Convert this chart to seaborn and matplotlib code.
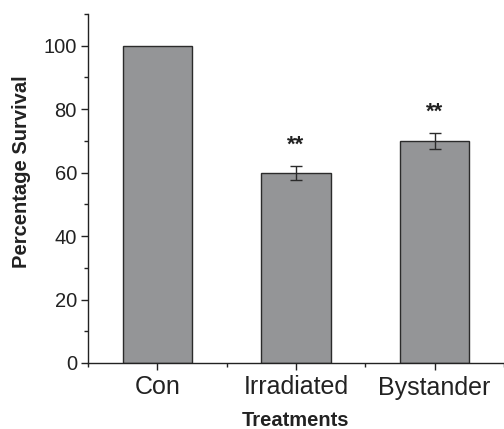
import numpy as np
import pandas as pd
import matplotlib
matplotlib.use("Agg")
import matplotlib.pyplot as plt
import seaborn as sns
from matplotlib.ticker import MultipleLocator, FixedLocator

# Data
treatments = ["Con", "Irradiated", "Bystander"]
survival = [100, 60, 70]
errors = [0, 2.2, 2.5]
marks = ["", "**", "**"]

sns.set_style("ticks")
plt.rcParams['font.family'] = ['Liberation Sans', 'DejaVu Sans']

df = pd.DataFrame({"Treatments": treatments, "Survival": survival})

fig = plt.figure(figsize=(5.04, 4.29), dpi=100)
ax = fig.add_axes([88 / 504, 1 - 363 / 429, 1 - 88 / 504, (363 - 14) / 429])

sns.barplot(data=df, x="Treatments", y="Survival", color="#939598",
            width=0.5, edgecolor="#2b2b2b", linewidth=1.0, ax=ax, errorbar=None)

# error bars (Con has none)
for i, (v, e) in enumerate(zip(survival, errors)):
    if e > 0:
        ax.errorbar(i, v, yerr=e, fmt="none", ecolor="#2b2b2b",
                    elinewidth=1.0, capsize=4, capthick=1.0)
    if marks[i]:
        ax.text(i, v + e + 6.5, marks[i], ha="center", va="center",
                fontsize=16, fontweight="bold", color="#222222")

ax.set_xlim(-0.5, 2.5)
ax.set_ylim(0, 110)
ax.yaxis.set_major_locator(MultipleLocator(20))
ax.yaxis.set_minor_locator(MultipleLocator(10))
ax.set_yticks([0, 20, 40, 60, 80, 100])
ax.xaxis.set_minor_locator(FixedLocator([-0.5, 0.5, 1.5, 2.5]))

ax.tick_params(axis="both", which="major", length=5, width=1, color="#222222")
ax.tick_params(axis="both", which="minor", length=3, width=1, color="#222222")
ax.tick_params(axis="y", labelsize=14.5, pad=3, colors="#222222")
ax.tick_params(axis="x", labelsize=18, pad=4, colors="#222222")

for side in ["left", "bottom"]:
    ax.spines[side].set_linewidth(1.0)
    ax.spines[side].set_color("#222222")
ax.spines["top"].set_visible(False)
ax.spines["right"].set_visible(False)

ax.set_xlabel("Treatments", fontsize=14.5, fontweight="bold", color="#222222", labelpad=8)
ax.set_ylabel("Percentage Survival", fontsize=14.5, fontweight="bold", color="#222222")
ax.yaxis.set_label_coords(-0.137, 0.547)

fig.savefig("out.png", dpi=100)
